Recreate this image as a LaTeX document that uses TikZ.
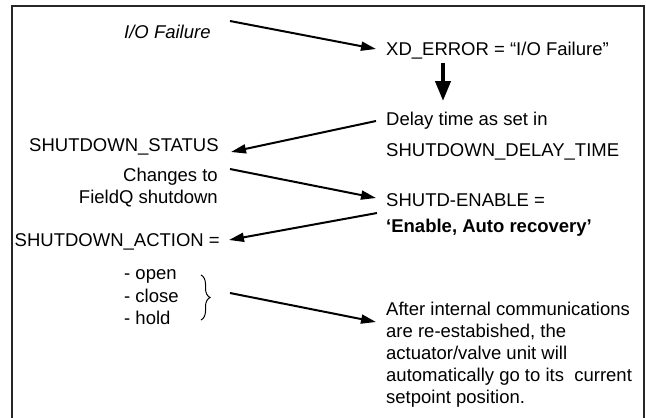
\documentclass[tikz,border=0pt]{standalone}
\usepackage{fontspec}
\setmainfont{Liberation Sans}
\usetikzlibrary{arrows.meta,decorations.pathreplacing}

\begin{document}
\begin{tikzpicture}[x=1pt,y=-1pt,
  txt/.style={anchor=base west,inner sep=0pt,font=\fontsize{18.5}{22}\selectfont},
  txtr/.style={txt,anchor=base east},
  flow/.style={line width=2pt,-{Triangle[length=15pt,width=9pt]}},
  bigflow/.style={line width=4pt,-{Triangle[length=20pt,width=15pt]}},
  frame/.style={line width=1.3pt,draw=black!85}]
\useasboundingbox (0,0) rectangle (646,418);

% open frame (no bottom edge)
\draw[frame] (12,418) -- (12,6) -- (644,6) -- (644,418);

% left column
\node[txt,font=\fontsize{18.5}{22}\selectfont\itshape] (io) at (124,38) {I/O Failure};
\node[txt] (status) at (29,151) {SHUTDOWN\_STATUS};
\node[txtr] (chg1) at (218,181) {Changes to};
\node[txtr] (chg2) at (218,203) {FieldQ shutdown};
\node[txt] (action) at (14.5,246) {SHUTDOWN\_ACTION =};
\node[txt] (open) at (124,279) {- open};
\node[txt] (close) at (124,302) {- close};
\node[txt] (hold) at (124,324) {- hold};

% right column
\node[txt] (xderr) at (386,55) {XD\_ERROR = “I/O Failure”};
\node[txt] (delay1) at (386,125) {Delay time as set in};
\node[txt] (delay2) at (386,156) {SHUTDOWN\_DELAY\_TIME};
\node[txt] (en1) at (386,206) {SHUTD-ENABLE =};
\node[txt,font=\fontsize{18.5}{22}\selectfont\bfseries] (en2) at (386,232) {‘Enable, Auto recovery’};
\node[txt] (p1) at (386,315) {After internal communications};
\node[txt] (p2) at (386,337) {are re-estabished, the};
\node[txt] (p3) at (386,359) {actuator/valve unit will};
\node[txt] (p4) at (386,381) {automatically go to its\ \ current};
\node[txt] (p5) at (386,403) {setpoint position.};

% connector end points
\coordinate (a1s) at (230,21);  \coordinate (a1e) at (376,49);
\coordinate (dns) at (443,63);  \coordinate (dne) at (443,101);
\coordinate (a2s) at (376,121); \coordinate (a2e) at (231,152);
\coordinate (a3s) at (230,169); \coordinate (a3e) at (376,198);
\coordinate (a4s) at (377,213); \coordinate (a4e) at (229,240);
\coordinate (a5s) at (230,293); \coordinate (a5e) at (376,322);
\coordinate (brt) at (201,275); \coordinate (brb) at (201,320);

% connectors
\draw[flow] (a1s) -- (a1e);
\draw[bigflow] (dns) -- (dne);
\draw[flow] (a2s) -- (a2e);
\draw[flow] (a3s) -- (a3e);
\draw[flow] (a4s) -- (a4e);
\draw[flow] (a5s) -- (a5e);

% brace grouping the three actions
\draw[line width=1pt,decorate,decoration={brace,amplitude=9pt}] (brt) -- (brb);
\end{tikzpicture}
\end{document}
